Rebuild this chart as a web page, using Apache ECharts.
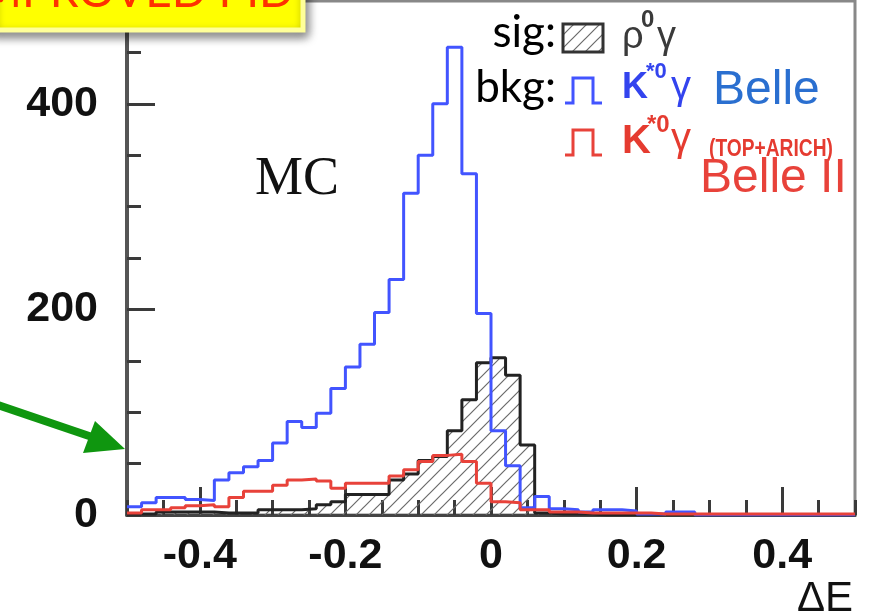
<!DOCTYPE html>
<html>
<head>
<meta charset="utf-8">
<script src="https://cdn.jsdelivr.net/npm/echarts@6/dist/echarts.min.js"></script>
<style>
html, body { margin: 0; background: #fff; }
#chart { width: 875px; height: 616px; }
</style>
</head>
<body>
<div id="chart"></div>
<script>
// bin edges of the ΔE histograms (50 bins of 0.02)
const binEdges = [-0.5, -0.48, -0.46, -0.44, -0.42, -0.4, -0.38, -0.36, -0.34, -0.32,
  -0.3, -0.28, -0.26, -0.24, -0.22, -0.2, -0.18, -0.16, -0.14, -0.12,
  -0.1, -0.08, -0.06, -0.04, -0.02, 0, 0.02, 0.04, 0.06, 0.08,
  0.1, 0.12, 0.14, 0.16, 0.18, 0.2, 0.22, 0.24, 0.26, 0.28,
  0.3, 0.32, 0.34, 0.36, 0.38, 0.4, 0.42, 0.44, 0.46, 0.48, 0.5];

// sig: rho0 gamma (hatched)
const sigRho = [1, 1, 3, 3, 3, 3, 2, 2, 2, 5,
  5, 5, 6, 10, 13, 20, 20, 20, 34, 40,
  53, 57, 82, 112, 148, 153, 136, 68, 2, 1,
  1, 1, 0, 0, 0, 0, 0, 0, 0, 0,
  0, 0, 0, 0, 0, 0, 0, 0, 0, 0];

// bkg: K*0 gamma, Belle PID (blue)
const bkgBelle = [8, 12, 17, 17, 15, 14, 34, 41, 47, 53,
  70, 91, 85, 99, 123, 144, 166, 197, 229, 313,
  350, 400, 455, 332, 196, 82, 48, 7, 18, 6,
  5, 3, 5, 5, 4, 1, 1, 3, 3, 0,
  0, 0, 0, 0, 0, 0, 0, 0, 0, 0];

// bkg: K*0 gamma, Belle II PID (TOP+ARICH) (red)
const bkgBelle2 = [2, 5, 5, 7, 9, 10, 8, 17, 23, 23,
  29, 34, 35, 33, 26, 31, 31, 31, 38, 44,
  52, 58, 59, 52, 31, 13, 12, 5, 5, 3,
  3, 2, 2, 2, 2, 2, 1, 1, 1, 1,
  1, 1, 1, 1, 1, 1, 1, 1, 1, 1];

const xMajorTicks = [-0.4, -0.2, 0, 0.2, 0.4];
const yMajorTicks = [0, 200, 400];

function toSteps(vals) {
  const pts = vals.map((v, i) => [binEdges[i], v]);
  pts.push([binEdges[vals.length], vals[vals.length - 1]]);
  return pts;
}

// diagonal hatch for the signal histogram
const hatch = document.createElement('canvas');
hatch.width = 13;
hatch.height = 13;
const hctx = hatch.getContext('2d');
hctx.strokeStyle = '#6a6a6a';
hctx.lineWidth = 1.2;
hctx.beginPath();
hctx.moveTo(0, 13); hctx.lineTo(13, 0);
hctx.moveTo(-6.5, 6.5); hctx.lineTo(6.5, -6.5);
hctx.moveTo(6.5, 19.5); hctx.lineTo(19.5, 6.5);
hctx.stroke();

const labelFont = { fontFamily: 'Liberation Sans', fontWeight: 'bold', fontSize: 43, color: '#111' };
const tickStyle = { color: '#3a3a3a', width: 3 };

function txt(text, x, y, font, fill, align) {
  return {
    type: 'text', z: 100,
    style: { text: text, x: x, y: y, font: font, fill: fill,
      textAlign: align || 'left', align: align || 'left',
      textVerticalAlign: 'middle', verticalAlign: 'middle' }
  };
}

const chart = echarts.init(document.getElementById('chart'));
chart.setOption({
  animation: false,
  grid: { left: 127, right: 20, top: 1, bottom: 101, show: true, borderColor: '#888', borderWidth: 3 },
  xAxis: [{
    type: 'value', min: -0.5, max: 0.5, interval: 0.05, position: 'bottom',
    axisLine: { onZero: false, lineStyle: { color: '#444', width: 3 } },
    axisTick: { inside: true, length: 15, lineStyle: tickStyle },
    axisLabel: { show: false },
    splitLine: { show: false }
  }, {
    type: 'value', min: -0.5, max: 0.5, position: 'bottom',
    axisLine: { show: false, onZero: false },
    axisTick: { inside: true, length: 28, customValues: xMajorTicks, lineStyle: tickStyle },
    axisLabel: Object.assign({ customValues: xMajorTicks, margin: 20 }, labelFont),
    splitLine: { show: false }
  }],
  yAxis: [{
    type: 'value', min: 0, max: 500, interval: 50, position: 'left',
    axisLine: { show: true, onZero: false, lineStyle: { color: '#555', width: 4 } },
    axisTick: { inside: true, length: 14, lineStyle: tickStyle },
    axisLabel: { show: false },
    splitLine: { show: false }
  }, {
    type: 'value', min: 0, max: 500, position: 'left',
    axisLine: { show: false, onZero: false },
    axisTick: { inside: true, length: 28, customValues: [200, 400], lineStyle: tickStyle },
    axisLabel: Object.assign({ customValues: yMajorTicks, margin: 29 }, labelFont),
    splitLine: { show: false }
  }],
  series: [{
    name: 'sig', type: 'line', step: 'end', showSymbol: false,
    data: toSteps(sigRho),
    lineStyle: { color: '#222', width: 3 },
    areaStyle: { color: { image: hatch, repeat: 'repeat' }, opacity: 1 },
    z: 2
  }, {
    name: 'Belle', type: 'line', step: 'end', showSymbol: false,
    data: toSteps(bkgBelle),
    lineStyle: { color: '#4254ff', width: 3 },
    z: 3
  }, {
    name: 'Belle II', type: 'line', step: 'end', showSymbol: false,
    data: toSteps(bkgBelle2),
    lineStyle: { color: '#e8423a', width: 3 },
    z: 4
  }],
  graphic: [
    // yellow "IMPROVED PID" box, cut at the top
    { type: 'rect', z: 100, shape: { x: -10, y: -40, width: 313, height: 70 },
      style: { fill: '#ffff00', stroke: '#ffff99', lineWidth: 5,
        shadowBlur: 10, shadowColor: 'rgba(0,0,0,0.45)', shadowOffsetX: 3, shadowOffsetY: 5 } },
    txt('IMPROVED PID', 294, -8, '46px Lato', '#ff3000', 'right'),
    // green arrow
    { type: 'polyline', z: 100, shape: { points: [[-5, 404], [95, 438]] },
      style: { stroke: '#0f960f', lineWidth: 8 } },
    { type: 'polygon', z: 100, shape: { points: [[125, 449], [83, 453], [95, 421]] },
      style: { fill: '#0f960f' } },
    // MC
    txt('MC', 297, 180, '54px "Liberation Serif"', '#111', 'center'),
    // legend
    txt('sig:', 556, 33, '44px Lato', '#000', 'right'),
    txt('bkg:', 556, 88, '44px Lato', '#000', 'right'),
    { type: 'rect', z: 100, shape: { x: 563, y: 24, width: 40, height: 28 },
      style: { fill: { image: hatch, repeat: 'repeat' }, stroke: '#333', lineWidth: 3 } },
    txt('ρ', 622, 38, '38px "Liberation Sans"', '#3a3a3a'),
    txt('0', 641, 20, 'bold 24px "Liberation Sans"', '#3a3a3a'),
    txt('γ', 657, 38, '38px "Liberation Sans"', '#3a3a3a'),
    { type: 'polyline', z: 100, shape: { points: [[565, 103], [573, 103], [573, 78], [593, 78], [593, 103], [602, 103]] },
      style: { stroke: '#4254ff', lineWidth: 3, fill: null } },
    txt('K', 622, 88, 'bold 36px "Liberation Sans"', '#3344ee'),
    txt('*0', 646, 72, 'bold 22px "Liberation Sans"', '#3344ee'),
    txt('γ', 671, 88, '40px "Liberation Sans"', '#3344ee'),
    txt('Belle', 713, 91, '48px "Liberation Sans"', '#2a6fd0'),
    { type: 'polyline', z: 100, shape: { points: [[565, 155], [573, 155], [573, 130], [593, 130], [593, 155], [602, 155]] },
      style: { stroke: '#e8423a', lineWidth: 3, fill: null } },
    txt('K', 622, 142, 'bold 40px "Liberation Sans"', '#e53b30'),
    txt('*0', 647, 125, 'bold 24px "Liberation Sans"', '#e53b30'),
    txt('γ', 671, 140, '40px "Liberation Sans"', '#e53b30'),
    { type: 'text', z: 100, x: 709, y: 149, scaleX: 0.8,
      style: { text: '(TOP+ARICH)', x: 0, y: 0, font: 'bold 24px "Liberation Sans"', fill: '#e53b30',
        textAlign: 'left', align: 'left', textVerticalAlign: 'middle', verticalAlign: 'middle' } },
    txt('Belle II', 700, 179, '48px "Liberation Sans"', '#e8423a'),
    // axis title
    txt('ΔE', 853, 599, '42px "Liberation Sans"', '#111', 'right')
  ]
});
window.addEventListener('resize', () => { chart.resize(); });
</script>
</body>
</html>
